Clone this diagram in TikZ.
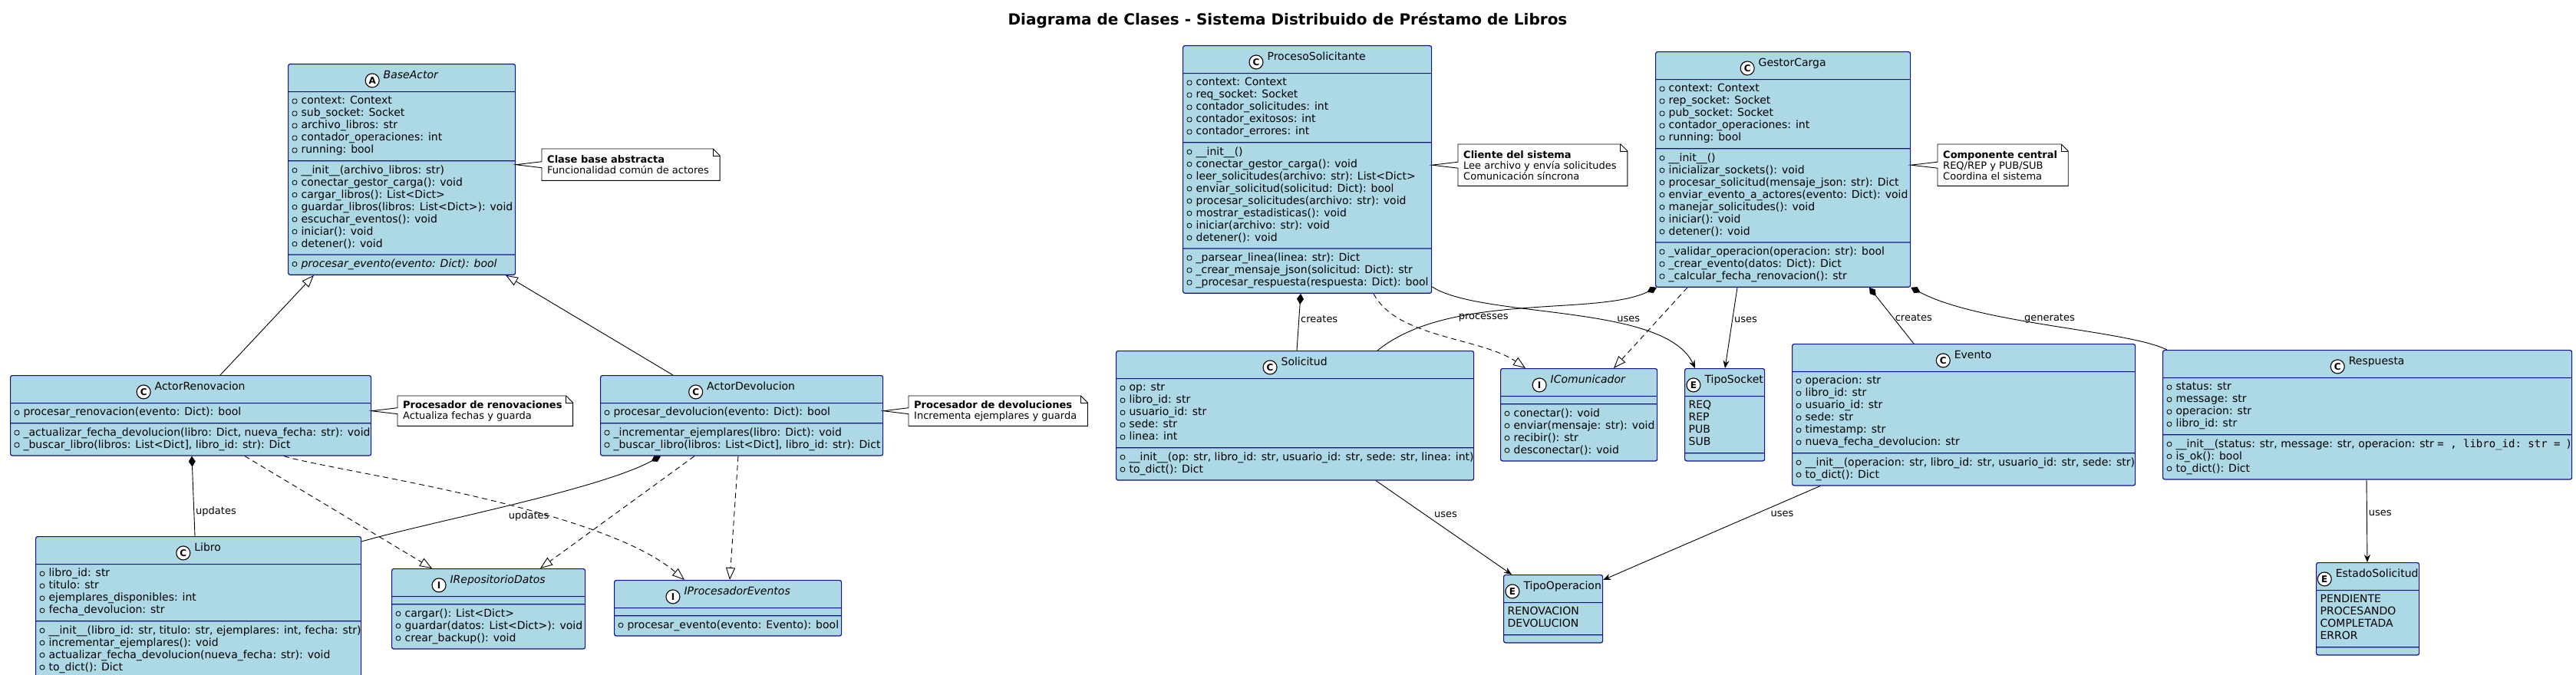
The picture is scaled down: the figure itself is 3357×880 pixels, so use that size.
\documentclass[tikz,border=0pt]{standalone}
\usepackage{fontspec}
\setmainfont{DejaVu Sans}
\setmonofont{DejaVu Sans Mono}
\usetikzlibrary{shapes.multipart,arrows.meta}

\definecolor{classfill}{HTML}{ADD8E6}
\definecolor{classline}{HTML}{12128A}

% circled letter in class headers, visibility marks
\newcommand{\ico}[1]{\tikz[baseline=-4.5pt]\node[circle,draw=black,fill=white,line width=1.1pt,inner sep=0pt,minimum size=18pt,font=\fontsize{12}{12}\selectfont\bfseries]{#1};}
\newcommand{\pv}{\makebox[12pt][l]{\tikz[baseline=-1pt]\draw[draw=black,line width=0.8pt] (0pt,0pt) rectangle (6pt,6pt);}}
\newcommand{\pb}{\makebox[12pt][l]{\tikz[baseline=-1pt]\draw[draw=black,line width=0.8pt] (3pt,3pt) circle[radius=3pt];}}
% compartments
\newcommand{\hdr}[3]{\parbox{#1pt}{\centering\fontsize{14}{16}\selectfont\rule[-5pt]{0pt}{19pt}\ico{#2}\hspace{5pt}#3}}
\newcommand{\mem}[2]{\parbox{#1pt}{\raggedright\leftskip=5pt\fontsize{14}{16}\selectfont\strut#2\strut}}
\newcommand{\emp}[1]{\rule{#1pt}{0pt}}

\tikzset{
  umlclass/.style={rectangle split, draw=classline, fill=classfill, line width=1.2pt,
    rounded corners=2.5pt, inner xsep=0pt, inner ysep=4.5pt, anchor=north west},
  notebox/.style={anchor=north west, align=left, inner xsep=7pt, inner ysep=6pt,
    font=\fontsize{13}{14}\selectfont},
  noteline/.style={draw=black, line width=0.9pt, line join=miter},
  lbl/.style={font=\fontsize{13}{15}\selectfont, inner sep=2pt},
  conn/.style={line width=0.9pt},
  inh/.style={conn, -{Triangle[open,length=16pt,width=12pt]}},
  realiz/.style={conn, dash pattern=on 7pt off 5pt, -{Triangle[open,length=16pt,width=12pt]}},
  compo/.style={conn, {Diamond[length=14pt,width=9pt]}-},
  usesarrow/.style={conn, -{Stealth[length=10pt,width=8pt]}}
}

\begin{document}
\begin{tikzpicture}[x=1pt,y=-1pt]
\useasboundingbox (0,0) rectangle (3357,880);

\node[font=\fontsize{20}{24}\selectfont\bfseries] (title) at (1678,27)
  {Diagrama de Clases - Sistema Distribuido de Préstamo de Libros};

% actors
\node[umlclass, rectangle split parts=4] (baseactor) at (375,83)
  {\hdr{296}{A}{\textit{BaseActor}}
  \nodepart{two}\mem{296}{\pv context: Context\\ \pv sub\_socket: Socket\\ \pv archivo\_libros: str\\
    \pv contador\_operaciones: int\\ \pv running: bool}
  \nodepart{three}\mem{296}{\pb \_\_init\_\_(archivo\_libros: str)\\ \pb conectar\_gestor\_carga(): void\\
    \pb cargar\_libros(): List<Dict>\\ \pb guardar\_libros(libros: List<Dict>): void\\
    \pb escuchar\_eventos(): void\\ \pb iniciar(): void\\ \pb detener(): void}
  \nodepart{four}\mem{296}{\pb \textit{procesar\_evento(evento: Dict): bool}}};

\node[umlclass, rectangle split parts=3] (actorrenov) at (13,489)
  {\hdr{470}{C}{ActorRenovacion}
  \nodepart{two}\mem{470}{\pb procesar\_renovacion(evento: Dict): bool}
  \nodepart{three}\mem{470}{\pv \_actualizar\_fecha\_devolucion(libro: Dict, nueva\_fecha: str): void\\
    \pv \_buscar\_libro(libros: List<Dict], libro\_id: str): Dict}};

\node[umlclass, rectangle split parts=3] (actordev) at (782,489)
  {\hdr{368}{C}{ActorDevolucion}
  \nodepart{two}\mem{368}{\pb procesar\_devolucion(evento: Dict): bool}
  \nodepart{three}\mem{368}{\pv \_incrementar\_ejemplares(libro: Dict): void\\
    \pv \_buscar\_libro(libros: List<Dict], libro\_id: str): Dict}};

\node[umlclass, rectangle split parts=3] (libro) at (46,699)
  {\hdr{424}{C}{Libro}
  \nodepart{two}\mem{424}{\pb libro\_id: str\\ \pb titulo: str\\ \pb ejemplares\_disponibles: int\\ \pb fecha\_devolucion: str}
  \nodepart{three}\mem{424}{\pb \_\_init\_\_(libro\_id: str, titulo: str, ejemplares: int, fecha: str)\\
    \pb incrementar\_ejemplares(): void\\ \pb actualizar\_fecha\_devolucion(nueva\_fecha: str): void\\ \pb to\_dict(): Dict}};

\node[umlclass, rectangle split parts=3] (irepo) at (510,741)
  {\hdr{252}{I}{\textit{IRepositorioDatos}}
  \nodepart{two}\emp{252}
  \nodepart{three}\mem{252}{\pb cargar(): List<Dict>\\ \pb guardar(datos: List<Dict>): void\\ \pb crear\_backup(): void}};

\node[umlclass, rectangle split parts=3] (iproc) at (800,756)
  {\hdr{296}{I}{\textit{IProcesadorEventos}}
  \nodepart{two}\emp{296}
  \nodepart{three}\mem{296}{\pb procesar\_evento(evento: Evento): bool}};

% client and load manager
\node[umlclass, rectangle split parts=4] (proceso) at (1541,59)
  {\hdr{324}{C}{ProcesoSolicitante}
  \nodepart{two}\mem{324}{\pv context: Context\\ \pv req\_socket: Socket\\ \pv contador\_solicitudes: int\\
    \pv contador\_exitosos: int\\ \pv contador\_errores: int}
  \nodepart{three}\mem{324}{\pb \_\_init\_\_()\\ \pb conectar\_gestor\_carga(): void\\ \pb leer\_solicitudes(archivo: str): List<Dict>\\
    \pb enviar\_solicitud(solicitud: Dict): bool\\ \pb procesar\_solicitudes(archivo: str): void\\
    \pb mostrar\_estadisticas(): void\\ \pb iniciar(archivo: str): void\\ \pb detener(): void}
  \nodepart{four}\mem{324}{\pv \_parsear\_linea(linea: str): Dict\\ \pv \_crear\_mensaje\_json(solicitud: Dict): str\\
    \pv \_procesar\_respuesta(respuesta: Dict): bool}};

\node[umlclass, rectangle split parts=4] (gestor) at (2157,67)
  {\hdr{332}{C}{GestorCarga}
  \nodepart{two}\mem{332}{\pv context: Context\\ \pv rep\_socket: Socket\\ \pv pub\_socket: Socket\\
    \pv contador\_operaciones: int\\ \pv running: bool}
  \nodepart{three}\mem{332}{\pb \_\_init\_\_()\\ \pb inicializar\_sockets(): void\\ \pb procesar\_solicitud(mensaje\_json: str): Dict\\
    \pb enviar\_evento\_a\_actores(evento: Dict): void\\ \pb manejar\_solicitudes(): void\\ \pb iniciar(): void\\ \pb detener(): void}
  \nodepart{four}\mem{332}{\pv \_validar\_operacion(operacion: str): bool\\ \pv \_crear\_evento(datos: Dict): Dict\\
    \pv \_calcular\_fecha\_renovacion(): str}};

\node[umlclass, rectangle split parts=3] (solicitud) at (1454,457)
  {\hdr{466}{C}{Solicitud}
  \nodepart{two}\mem{466}{\pb op: str\\ \pb libro\_id: str\\ \pb usuario\_id: str\\ \pb sede: str\\ \pb linea: int}
  \nodepart{three}\mem{466}{\pb \_\_init\_\_(op: str, libro\_id: str, usuario\_id: str, sede: str, linea: int)\\ \pb to\_dict(): Dict}};

\node[umlclass, rectangle split parts=3] (icomu) at (1955,480)
  {\hdr{204}{I}{\textit{IComunicador}}
  \nodepart{two}\emp{204}
  \nodepart{three}\mem{204}{\pb conectar(): void\\ \pb enviar(mensaje: str): void\\ \pb recibir(): str\\ \pb desconectar(): void}};

\node[umlclass, rectangle split parts=3] (tiposocket) at (2195,480)
  {\hdr{104}{E}{TipoSocket}
  \nodepart{two}\mem{104}{REQ\\ REP\\ PUB\\ SUB}
  \nodepart{three}\emp{104}};

\node[umlclass, rectangle split parts=3] (evento) at (2335,448)
  {\hdr{447}{C}{Evento}
  \nodepart{two}\mem{447}{\pb operacion: str\\ \pb libro\_id: str\\ \pb usuario\_id: str\\ \pb sede: str\\
    \pb timestamp: str\\ \pb nueva\_fecha\_devolucion: str}
  \nodepart{three}\mem{447}{\pb \_\_init\_\_(operacion: str, libro\_id: str, usuario\_id: str, sede: str)\\ \pb to\_dict(): Dict}};

\node[umlclass, rectangle split parts=3] (respuesta) at (2818,456)
  {\hdr{533}{C}{Respuesta}
  \nodepart{two}\mem{533}{\pb status: str\\ \pb message: str\\ \pb operacion: str\\ \pb libro\_id: str}
  \nodepart{three}\mem{533}{\pb \_\_init\_\_(status: str, message: str, operacion: str \texttt{= , libro\_id: str = })\\
    \pb is\_ok(): bool\\ \pb to\_dict(): Dict}};

\node[umlclass, rectangle split parts=3] (tipoop) at (1959,749)
  {\hdr{129}{E}{TipoOperacion}
  \nodepart{two}\mem{129}{RENOVACION\\ DEVOLUCION}
  \nodepart{three}\emp{129}};

\node[umlclass, rectangle split parts=3] (estado) at (3018,733)
  {\hdr{134}{E}{EstadoSolicitud}
  \nodepart{two}\mem{134}{PENDIENTE\\ PROCESANDO\\ COMPLETADA\\ ERROR}
  \nodepart{three}\emp{134}};

% notes
\node[notebox, minimum height=41pt] (noteBase) at (706,194) {\textbf{Clase base abstracta}\\Funcionalidad común de actores};
\node[notebox, minimum height=39pt] (noteRenov) at (518,516) {\textbf{Procesador de renovaciones}\\Actualiza fechas y guarda};
\node[notebox, minimum height=39pt] (noteDev) at (1184,516) {\textbf{Procesador de devoluciones}\\Incrementa ejemplares y guarda};
\node[notebox, minimum height=54pt] (noteProc) at (1900,188) {\textbf{Cliente del sistema}\\Lee archivo y envía solicitudes\\Comunicación síncrona};
\node[notebox, minimum height=54pt] (noteGestor) at (2525,188) {\textbf{Componente central}\\REQ/REP y PUB/SUB\\Coordina el sistema};

\foreach \n/\c in {noteBase/baseactor, noteRenov/actorrenov, noteDev/actordev, noteProc/proceso, noteGestor/gestor}{
  \draw[noteline] (\n.north west) -- ([xshift=-2pt]\n.north east) -- ([xshift=7pt,yshift=-9pt]\n.north east)
    -- ([xshift=7pt]\n.south east) -- (\n.south west) -- ([yshift=-4pt]\n.west) -- (\c.east |- \n.west)
    -- ([yshift=4pt]\n.west) -- cycle;
  \draw[noteline] ([xshift=-2pt]\n.north east) -- ([xshift=-2pt,yshift=-9pt]\n.north east)
    -- ([xshift=7pt,yshift=-9pt]\n.north east);
}

% inheritance and realization
\draw[inh] ([xshift=274pt]actorrenov.north west) -- ([xshift=34pt]baseactor.south west);
\draw[inh] ([xshift=95pt]actordev.north west) -- ([xshift=284pt]baseactor.south west);
\draw[realiz] ([xshift=306pt]actorrenov.south west) -- ([xshift=53pt]irepo.north west);
\draw[realiz] ([xshift=357pt]actorrenov.south west) .. controls +(60,19) and +(-112,-96) .. ([xshift=92pt]iproc.north west);
\draw[realiz] ([xshift=123pt]actordev.south west) -- ([xshift=194pt]irepo.north west);
\draw[realiz] ([xshift=180pt]actordev.south west) -- ([xshift=151pt]iproc.north west);
\draw[realiz] ([xshift=249pt]proceso.south west) .. controls +(30,58) and +(-58,-40) .. ([xshift=33pt]icomu.north west);
\draw[realiz] ([xshift=42pt]gestor.south west) -- ([xshift=148pt]icomu.north west);

% composition
\draw[compo] ([xshift=237pt]actorrenov.south west) -- ([xshift=208pt]libro.north west)
  node[pos=0.69, right, lbl] {updates};
\draw[compo] ([xshift=79pt]actordev.south west) .. controls +(-81,44) and +(90,-26) .. ([yshift=-7pt]libro.north east)
  node[pos=0.52, anchor=north west, yshift=-5pt, lbl] {updates};
\draw[compo] ([xshift=154pt]proceso.south west) -- ([xshift=236pt]solicitud.north west)
  node[pos=0.45, right, lbl] {creates};
\draw[compo] ([xshift=2pt]gestor.south west) .. controls +(-79,38) and +(95,-77) .. ([xshift=341pt]solicitud.north west)
  node[pos=0.62, below, lbl] {processes};
\draw[compo] ([xshift=279pt]gestor.south west) -- ([xshift=159pt]evento.north west)
  node[pos=0.54, right, lbl] {creates};
\draw[compo] (gestor.south east) .. controls +(91,48) and +(-54,-26) .. ([xshift=6pt]respuesta.north west)
  node[pos=0.5, above, lbl] {generates};

% uses
\draw[usesarrow] ([yshift=9pt]proceso.south east) .. controls +(64,42) and +(-39,-85) .. ([xshift=14pt]tiposocket.north west)
  node[pos=0.68, above=3pt, lbl] {uses};
\draw[usesarrow] ([xshift=107pt]gestor.south west) -- ([xshift=53pt]tiposocket.north west)
  node[pos=0.4, right, lbl] {uses};
\draw[usesarrow] ([xshift=339pt]solicitud.south west) -- ([xshift=11pt]tipoop.north west)
  node[pos=0.36, right=10pt, lbl] {uses};
\draw[usesarrow] ([xshift=37pt]evento.south west) -- ([yshift=-7pt]tipoop.north east)
  node[pos=0.3, right=18pt, lbl] {uses};
\draw[usesarrow] ([xshift=266pt]respuesta.south west) -- ([xshift=67pt]estado.north west)
  node[pos=0.4, right, lbl] {uses};
\end{tikzpicture}
\end{document}
